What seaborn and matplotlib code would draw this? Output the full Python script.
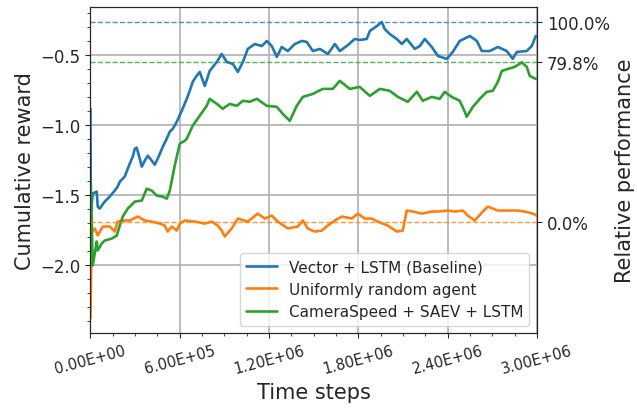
import numpy as np
import pandas as pd
import matplotlib
matplotlib.use("Agg")
import matplotlib.pyplot as plt
import seaborn as sns
from matplotlib.ticker import AutoMinorLocator, FormatStrFormatter

# time steps in millions, reward
blue_t = [0.000, 0.002, 0.009, 0.015, 0.042, 0.049, 0.062, 0.096, 0.129, 0.163,
          0.183, 0.197, 0.230, 0.251, 0.264, 0.284, 0.298, 0.311, 0.331, 0.345,
          0.365, 0.385, 0.412, 0.432, 0.452, 0.466, 0.486, 0.506, 0.533, 0.553,
          0.580, 0.613, 0.647, 0.667, 0.687, 0.708, 0.734, 0.768, 0.801, 0.849,
          0.882, 0.916, 0.957, 0.990, 1.024, 1.057, 1.104, 1.151, 1.185, 1.218,
          1.252, 1.285, 1.326, 1.373, 1.420, 1.453, 1.494, 1.541, 1.595, 1.642,
          1.675, 1.722, 1.776, 1.809, 1.856, 1.877, 1.924, 1.957, 1.977, 2.011,
          2.058, 2.092, 2.125, 2.179, 2.213, 2.246, 2.293, 2.334, 2.394, 2.434,
          2.481, 2.549, 2.596, 2.629, 2.683, 2.737, 2.797, 2.837, 2.864, 2.931,
          2.965, 2.992]
blue_r = [-0.884, -1.667, -1.560, -1.489, -1.475, -1.582, -1.596, -1.546, -1.511, -1.468,
          -1.439, -1.404, -1.368, -1.311, -1.276, -1.226, -1.169, -1.162, -1.240, -1.297,
          -1.254, -1.219, -1.254, -1.283, -1.240, -1.205, -1.155, -1.112, -1.048, -1.027,
          -0.977, -0.899, -0.813, -0.756, -0.692, -0.657, -0.621, -0.721, -0.614, -0.550,
          -0.493, -0.550, -0.564, -0.621, -0.550, -0.457, -0.422, -0.436, -0.400, -0.436,
          -0.514, -0.443, -0.472, -0.422, -0.400, -0.407, -0.472, -0.457, -0.493, -0.422,
          -0.472, -0.436, -0.386, -0.393, -0.386, -0.329, -0.294, -0.265, -0.315, -0.351,
          -0.386, -0.422, -0.386, -0.457, -0.436, -0.386, -0.443, -0.507, -0.528, -0.479,
          -0.400, -0.365, -0.400, -0.472, -0.472, -0.443, -0.472, -0.528, -0.479, -0.472,
          -0.436, -0.365]

orange_t = [0.000, 0.009, 0.029, 0.049, 0.083, 0.130, 0.163, 0.183, 0.230, 0.264,
            0.318, 0.365, 0.412, 0.466, 0.499, 0.519, 0.546, 0.580, 0.600, 0.634,
            0.701, 0.768, 0.815, 0.855, 0.882, 0.902, 0.949, 0.990, 1.057, 1.124,
            1.171, 1.218, 1.259, 1.326, 1.393, 1.427, 1.460, 1.507, 1.554, 1.595,
            1.642, 1.689, 1.756, 1.796, 1.843, 1.890, 1.930, 1.997, 2.058, 2.098,
            2.125, 2.166, 2.226, 2.293, 2.334, 2.401, 2.448, 2.502, 2.535, 2.582,
            2.636, 2.670, 2.737, 2.804, 2.871, 2.918, 2.972, 2.998]
orange_r = [-2.379, -1.760, -1.738, -1.788, -1.724, -1.724, -1.760, -1.689, -1.681, -1.681,
            -1.653, -1.681, -1.689, -1.703, -1.717, -1.760, -1.724, -1.753, -1.703, -1.681,
            -1.689, -1.703, -1.689, -1.717, -1.753, -1.795, -1.738, -1.667, -1.689, -1.632,
            -1.667, -1.646, -1.689, -1.738, -1.724, -1.681, -1.738, -1.760, -1.753, -1.717,
            -1.681, -1.653, -1.667, -1.632, -1.667, -1.667, -1.689, -1.717, -1.760, -1.753,
            -1.610, -1.617, -1.632, -1.617, -1.617, -1.610, -1.617, -1.610, -1.646, -1.681,
            -1.617, -1.582, -1.610, -1.610, -1.610, -1.617, -1.632, -1.646]

green_t = [0.002, 0.015, 0.029, 0.042, 0.049, 0.076, 0.096, 0.143, 0.177, 0.197,
           0.217, 0.251, 0.298, 0.345, 0.378, 0.412, 0.446, 0.486, 0.513, 0.533,
           0.566, 0.600, 0.634, 0.647, 0.687, 0.734, 0.781, 0.801, 0.849, 0.889,
           0.936, 0.983, 1.024, 1.071, 1.118, 1.185, 1.252, 1.292, 1.339, 1.386,
           1.427, 1.494, 1.561, 1.628, 1.675, 1.742, 1.809, 1.877, 1.944, 2.011,
           2.065, 2.132, 2.193, 2.233, 2.293, 2.347, 2.380, 2.427, 2.481, 2.515,
           2.528, 2.569, 2.616, 2.663, 2.703, 2.737, 2.764, 2.804, 2.851, 2.898,
           2.931, 2.951, 2.992]
green_r = [-1.397, -2.002, -1.916, -1.831, -1.895, -1.845, -1.824, -1.810, -1.788, -1.717,
           -1.653, -1.596, -1.546, -1.539, -1.454, -1.468, -1.504, -1.511, -1.525, -1.468,
           -1.290, -1.133, -1.112, -1.098, -1.005, -0.934, -0.863, -0.813, -0.849, -0.884,
           -0.849, -0.863, -0.827, -0.834, -0.813, -0.863, -0.870, -0.920, -0.970, -0.863,
           -0.799, -0.778, -0.742, -0.742, -0.685, -0.742, -0.728, -0.792, -0.742, -0.756,
           -0.799, -0.834, -0.763, -0.827, -0.799, -0.813, -0.763, -0.799, -0.827, -0.906,
           -0.941, -0.870, -0.813, -0.763, -0.756, -0.692, -0.614, -0.600, -0.585, -0.553,
           -0.585, -0.649, -0.671]

series_names = ["Vector + LSTM (Baseline)", "Uniformly random agent",
                "CameraSpeed + SAEV + LSTM"]
ref_levels = [-1.69, -0.553, -0.265]
ref_labels = ["0.0%", "79.8%", "100.0%"]

colors = ["#1f77b4", "#ff7f0e", "#2ca02c"]

sns.set_style("ticks")
plt.rcParams["font.family"] = ["DejaVu Sans"]

df = pd.concat([
    pd.DataFrame({"t": np.array(blue_t) * 1e6, "r": blue_r, "run": series_names[0]}),
    pd.DataFrame({"t": np.array(orange_t) * 1e6, "r": orange_r, "run": series_names[1]}),
    pd.DataFrame({"t": np.array(green_t) * 1e6, "r": green_r, "run": series_names[2]}),
])

fig, ax = plt.subplots(figsize=(6.37, 4.10), dpi=100)
fig.subplots_adjust(left=0.142, right=0.843, top=0.980, bottom=0.185)

sns.lineplot(data=df, x="t", y="r", hue="run", palette=colors, linewidth=1.9,
             estimator=None, sort=False, ax=ax)

# reference levels: random agent, best of ours, best baseline
for lvl, c in zip(ref_levels, [colors[1], colors[2], colors[0]]):
    ax.axhline(lvl, color=c, linestyle="--", linewidth=1.0, alpha=0.8)

ax.set_xlim(0, 3e6)
ax.set_xticks([0, 6e5, 1.2e6, 1.8e6, 2.4e6, 3e6])
ax.xaxis.set_major_formatter(FormatStrFormatter("%.2E"))
ax.xaxis.set_minor_locator(AutoMinorLocator(4))
ax.yaxis.set_minor_locator(AutoMinorLocator(5))
ax.tick_params(axis="x", labelrotation=15, labelsize=10.5)
ax.tick_params(axis="y", labelsize=12)
ax.grid(True, which="major", color="#b0b0b0", linewidth=1.2)
ax.set_xlabel("Time steps", fontsize=15)
ax.set_ylabel("Cumulative reward", fontsize=15)

ax.legend(loc="lower right", fontsize=11, frameon=True)

ax2 = ax.twinx()
ax2.set_ylim(ax.get_ylim())
ax2.set_yticks(ref_levels)
ax2.set_yticklabels(ref_labels)
ax2.tick_params(axis="y", labelsize=12)
ax2.set_ylabel("Relative performance", fontsize=15)

plt.savefig("out.png", dpi=100)
